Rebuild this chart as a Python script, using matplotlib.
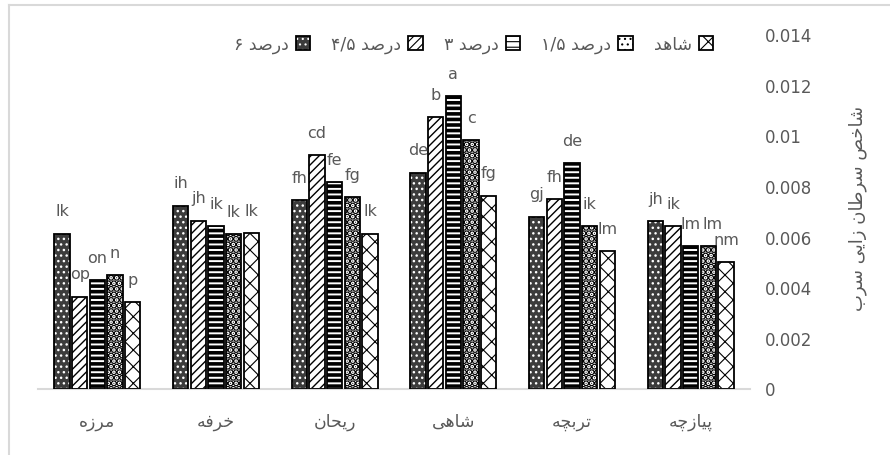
import matplotlib
matplotlib.use("Agg")
import matplotlib.pyplot as plt
import matplotlib.patches as mpatches
from matplotlib.lines import Line2D
from matplotlib.legend_handler import HandlerTuple
from matplotlib.ticker import FuncFormatter
import numpy as np

# ---------------- data ----------------
categories = ["مرزه", "خرفه", "ریحان", "شاهی", "تربچه", "پیازچه"]
series_names = ["۶ درصد", "۴/۵ درصد", "۳ درصد", "۱/۵ درصد", "شاهد"]
v_6 = [0.00611, 0.00722, 0.00743, 0.00852, 0.00678, 0.00660]
v_45 = [0.00363, 0.00663, 0.00922, 0.01072, 0.00748, 0.00642]
v_3 = [0.00427, 0.00642, 0.00815, 0.01154, 0.00890, 0.00563]
v_15 = [0.00448, 0.00610, 0.00756, 0.00981, 0.00642, 0.00563]
v_ctrl = [0.00340, 0.00613, 0.00611, 0.00761, 0.00542, 0.00498]
l_6 = ["lk", "ih", "fh", "de", "gj", "jh"]
l_45 = ["op", "jh", "cd", "b", "fh", "ik"]
l_3 = ["on", "ik", "fe", "a", "de", "lm"]
l_15 = ["n", "lk", "fg", "c", "ik", "lm"]
l_ctrl = ["p", "lk", "lk", "fg", "lm", "nm"]
y_label = "شاخص سرطان زایی سرب"
y_ticks = [0, 0.002, 0.004, 0.006, 0.008, 0.01, 0.012, 0.014]

# ------------- minimal Arabic/Persian shaping (presentation forms) -------------
FORMS = {  # isolated, final, initial, medial
    "ا": ("\uFE8D", "\uFE8E", None, None),
    "ب": ("\uFE8F", "\uFE90", "\uFE91", "\uFE92"),
    "پ": ("\uFB56", "\uFB57", "\uFB58", "\uFB59"),
    "ت": ("\uFE95", "\uFE96", "\uFE97", "\uFE98"),
    "ح": ("\uFEA1", "\uFEA2", "\uFEA3", "\uFEA4"),
    "خ": ("\uFEA5", "\uFEA6", "\uFEA7", "\uFEA8"),
    "چ": ("\uFB7A", "\uFB7B", "\uFB7C", "\uFB7D"),
    "د": ("\uFEA9", "\uFEAA", None, None),
    "ر": ("\uFEAD", "\uFEAE", None, None),
    "ز": ("\uFEAF", "\uFEB0", None, None),
    "س": ("\uFEB1", "\uFEB2", "\uFEB3", "\uFEB4"),
    "ش": ("\uFEB5", "\uFEB6", "\uFEB7", "\uFEB8"),
    "ص": ("\uFEB9", "\uFEBA", "\uFEBB", "\uFEBC"),
    "ط": ("\uFEC1", "\uFEC2", "\uFEC3", "\uFEC4"),
    "ف": ("\uFED1", "\uFED2", "\uFED3", "\uFED4"),
    "م": ("\uFEE1", "\uFEE2", "\uFEE3", "\uFEE4"),
    "ن": ("\uFEE5", "\uFEE6", "\uFEE7", "\uFEE8"),
    "ه": ("\uFEE9", "\uFEEA", "\uFEEB", "\uFEEC"),
    "ی": ("\uFBFC", "\uFBFD", "\uFBFE", "\uFBFF"),
}


def _joins_next(c):
    return c in FORMS and FORMS[c][2] is not None


def shape_word(w):
    out = []
    for i, c in enumerate(w):
        if c not in FORMS:
            out.append(c)
            continue
        prev_c = w[i - 1] if i > 0 else ""
        next_c = w[i + 1] if i + 1 < len(w) else ""
        jp = _joins_next(prev_c)
        jn = _joins_next(c) and next_c in FORMS
        iso, fin, ini, med = FORMS[c]
        if jp and jn:
            out.append(med)
        elif jp:
            out.append(fin)
        elif jn:
            out.append(ini)
        else:
            out.append(iso)
    return "".join(out)


def visual(s):
    """LTR paragraph: shape & reverse each run of Arabic letters (with inner spaces)."""
    res = []
    i = 0
    n = len(s)
    while i < n:
        if s[i] in FORMS:
            j = i
            while j < n and (s[j] in FORMS or (s[j] == " " and j + 1 < n and s[j + 1] in FORMS)):
                j += 1
            run = s[i:j]
            shaped = " ".join(shape_word(w) for w in run.split(" "))
            res.append(shaped[::-1])
            i = j
        else:
            res.append(s[i])
            i += 1
    return "".join(res)


# ---------------- style ----------------
plt.rcParams["font.family"] = ["DejaVu Sans"]
TXT = "#595959"
DARK = "#3c3c3c"

fig = plt.figure(figsize=(8.9, 4.56), dpi=100)
ax = fig.add_axes([38 / 890, 1 - 389.5 / 456, 712 / 890, 354.5 / 456])

x = np.arange(len(categories))
series_vals = [v_6, v_45, v_3, v_15, v_ctrl]
series_lbls = [l_6, l_45, l_3, l_15, l_ctrl]
step = 0.149
bw = 0.128
offsets = (np.arange(5) - 2) * step

styles = [
    dict(face=DARK, hatch="...", hcol="white", hlw=1.0),
    dict(face="white", hatch="////", hcol="black", hlw=1.0),
    dict(face="white", hatch="---", hcol="black", hlw=2.6),
    dict(face="white", hatch="...", hcol="black", hlw=3.4),
    dict(face="white", hatch="xx", hcol="black", hlw=0.8),
]

handles = []
ann = [[None] * 5 for _ in categories]
for k in range(5):
    st = styles[k]
    plt.rcParams["hatch.linewidth"] = st["hlw"]
    xs = x + offsets[k]
    fill = ax.bar(xs, series_vals[k], width=bw, color=st["face"], edgecolor=st["hcol"],
                  hatch=st["hatch"], linewidth=0, zorder=2)
    ax.bar(xs, series_vals[k], width=bw, fill=False, edgecolor="black", linewidth=1.3, zorder=3)
    for p in fill.patches:
        if hasattr(p, "set_hatch_linewidth"):
            p.set_hatch_linewidth(st["hlw"])
    hp = mpatches.Patch(facecolor=st["face"], edgecolor=st["hcol"], hatch=st["hatch"], linewidth=0)
    if hasattr(hp, "set_hatch_linewidth"):
        hp.set_hatch_linewidth(st["hlw"])
    ho = mpatches.Patch(fill=False, edgecolor="black", linewidth=1.3)
    handles.append((hp, ho))
    for g, (xi, v, t) in enumerate(zip(xs, series_vals[k], series_lbls[k])):
        ann[g][k] = ax.annotate(t, (xi, v), xytext=(0, 16.5), textcoords="offset points",
                                ha="center", va="center", fontsize=11.5, color=TXT, zorder=4)

ax.set_xlim(-0.5, len(categories) - 0.5)
ax.set_ylim(0, 0.014)
ax.set_yticks(y_ticks)
ax.yaxis.set_major_formatter(FuncFormatter(lambda v, p: f"{v:g}"))
ax.yaxis.tick_right()
ax.tick_params(axis="y", length=0, pad=11, labelsize=12, labelcolor=TXT)
ax.set_xticks(x)
ax.set_xticklabels([visual(c) for c in categories])
ax.tick_params(axis="x", length=0, pad=17, labelsize=12.5, labelcolor=TXT)

for s in ["top", "left", "right"]:
    ax.spines[s].set_visible(False)
ax.spines["bottom"].set_color("#d9d9d9")
ax.spines["bottom"].set_linewidth(1.5)

ax.yaxis.set_label_position("right")
ax.set_ylabel(visual(y_label), rotation=90, fontsize=13, color=TXT)
ax.yaxis.set_label_coords(1.138, 0.512)

leg = ax.legend(handles, [visual(s) for s in series_names],
                handler_map={tuple: HandlerTuple(ndivide=1, pad=0)},
                loc="center", bbox_to_anchor=(0.612, 0.972), ncol=5, frameon=False,
                markerfirst=False, handlelength=0.85, handleheight=0.85,
                handletextpad=0.4, columnspacing=1.2, fontsize=12.5, labelcolor=TXT)

# nudge data labels right when they collide with the left neighbour (as Excel does)
fig.canvas.draw()
r = fig.canvas.get_renderer()
for g in range(len(categories)):
    for k in range(1, 5):
        a_prev, a_cur = ann[g][k - 1], ann[g][k]
        bp = a_prev.get_window_extent(r)
        bc = a_cur.get_window_extent(r)
        if bc.x0 < bp.x1 and bc.y0 < bp.y1 and bp.y0 < bc.y1:
            shift_px = bp.x1 - bc.x0 + 1.5
            ox, oy = a_cur.xyann
            a_cur.xyann = (ox + shift_px * 72 / fig.dpi, oy)

# chart-area border (light grey)
fig.add_artist(Line2D([8.5 / 890, 8.5 / 890], [0, 1 - 5.5 / 456], transform=fig.transFigure,
                      color="#d9d9d9", lw=1.5))
fig.add_artist(Line2D([8.5 / 890, 1], [1 - 5.5 / 456, 1 - 5.5 / 456], transform=fig.transFigure,
                      color="#d9d9d9", lw=1.5))

fig.savefig("out.png", dpi=100)
